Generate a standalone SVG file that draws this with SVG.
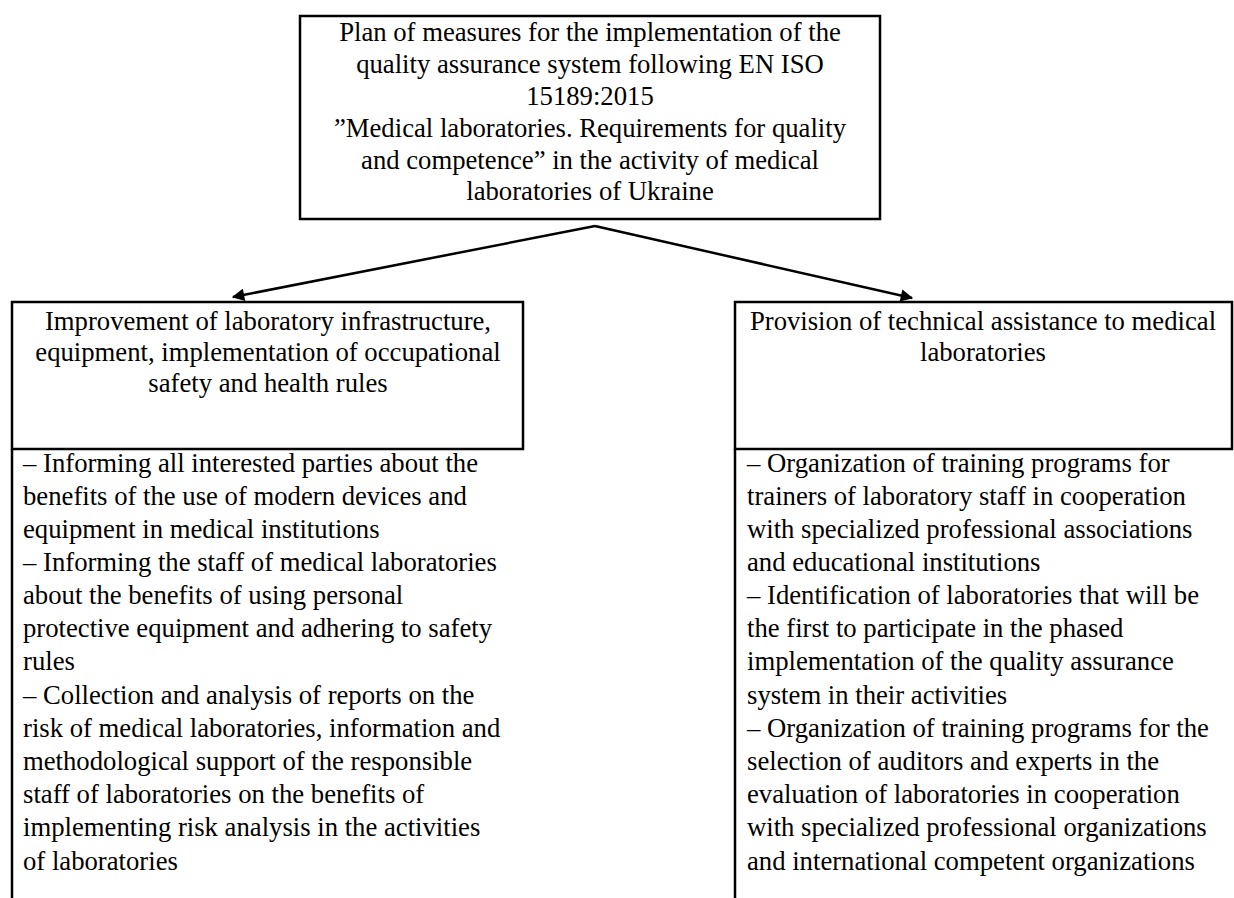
<svg xmlns="http://www.w3.org/2000/svg" width="1234" height="898" viewBox="0 0 1234 898">
<style>
.t{font-family:'Liberation Serif','Times New Roman',serif;font-size:26.7px;fill:#000}
.c{text-anchor:middle}
.b{fill:none;stroke:#000;stroke-width:2.5}
.l{stroke:#000;stroke-width:2.5;fill:none}
</style>
<defs>
<marker id="ah" viewBox="0 0 10 10" refX="9" refY="5" markerWidth="6.5" markerHeight="5" markerUnits="strokeWidth" orient="auto">
<path d="M0,0 L10,5 L0,10 z" fill="#000"/>
</marker>
</defs>
<rect width="1234" height="898" fill="#fff"/>
<g id="top">
<rect class="b" x="300" y="16" width="580" height="203"/>
<text class="t c" x="590" y="41">Plan of measures for the implementation of the</text>
<text class="t c" x="590" y="73">quality assurance system following EN ISO</text>
<text class="t c" x="590" y="105">15189:2015</text>
<text class="t c" x="590" y="137">”Medical laboratories. Requirements for quality</text>
<text class="t c" x="590" y="169">and competence” in the activity of medical</text>
<text class="t c" x="590" y="200">laboratories of Ukraine</text>
</g>
<g id="left">
<rect class="b" x="12" y="302" width="511" height="147"/>
<line class="l" x1="12" y1="449" x2="12" y2="898"/>
<text class="t c" x="268" y="330">Improvement of laboratory infrastructure,</text>
<text class="t c" x="268" y="361">equipment, implementation of occupational</text>
<text class="t c" x="268" y="392">safety and health rules</text>
<text class="t" x="23" y="472">– Informing all interested parties about the</text>
<text class="t" x="23" y="505">benefits of the use of modern devices and</text>
<text class="t" x="23" y="538">equipment in medical institutions</text>
<text class="t" x="23" y="571">– Informing the staff of medical laboratories</text>
<text class="t" x="23" y="604">about the benefits of using personal</text>
<text class="t" x="23" y="637">protective equipment and adhering to safety</text>
<text class="t" x="23" y="670">rules</text>
<text class="t" x="23" y="704">– Collection and analysis of reports on the</text>
<text class="t" x="23" y="737">risk of medical laboratories, information and</text>
<text class="t" x="23" y="770">methodological support of the responsible</text>
<text class="t" x="23" y="803">staff of laboratories on the benefits of</text>
<text class="t" x="23" y="836">implementing risk analysis in the activities</text>
<text class="t" x="23" y="870">of laboratories</text>
</g>
<g id="right">
<rect class="b" x="735" y="302" width="497" height="147"/>
<line class="l" x1="735" y1="449" x2="735" y2="898"/>
<text class="t c" x="983" y="330">Provision of technical assistance to medical</text>
<text class="t c" x="983" y="361">laboratories</text>
<text class="t" x="747" y="472">– Organization of training programs for</text>
<text class="t" x="747" y="505">trainers of laboratory staff in cooperation</text>
<text class="t" x="747" y="538">with specialized professional associations</text>
<text class="t" x="747" y="571">and educational institutions</text>
<text class="t" x="747" y="604">– Identification of laboratories that will be</text>
<text class="t" x="747" y="637">the first to participate in the phased</text>
<text class="t" x="747" y="670">implementation of the quality assurance</text>
<text class="t" x="747" y="704">system in their activities</text>
<text class="t" x="747" y="737">– Organization of training programs for the</text>
<text class="t" x="747" y="770">selection of auditors and experts in the</text>
<text class="t" x="747" y="803">evaluation of laboratories in cooperation</text>
<text class="t" x="747" y="836">with specialized professional organizations</text>
<text class="t" x="747" y="870">and international competent organizations</text>
</g>
<g id="connectors">
<line class="l" x1="595" y1="226" x2="233" y2="297" marker-end="url(#ah)"/>
<line class="l" x1="595" y1="226" x2="912" y2="298" marker-end="url(#ah)"/>
</g>
</svg>
